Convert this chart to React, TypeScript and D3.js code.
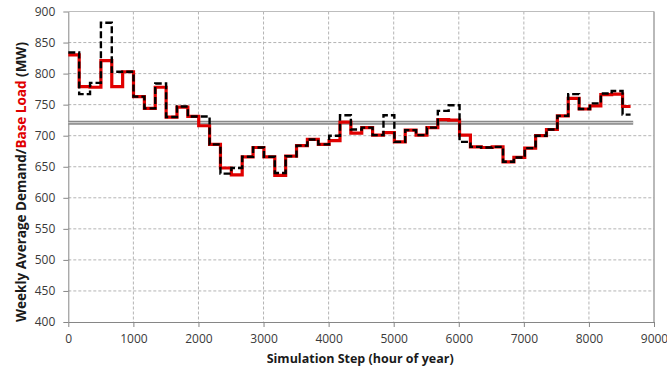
import React, { useEffect, useRef } from "react";
import * as d3 from "d3";

// weekly values (MW), one per simulation week
const baseLoad: number[] = [
  830, 779, 778, 821, 779, 803, 763, 744, 778, 730, 746, 731, 716,
  686, 648, 637, 666, 681, 666, 636, 667, 684, 694, 686, 692, 722,
  704, 713, 701, 705, 690, 709, 701, 713, 726, 725, 701, 682, 681,
  682, 658, 665, 680, 700, 710, 732, 760, 743, 748, 766, 767, 747,
];
const weeklyDemand: number[] = [
  834, 767, 785, 882, 803, 803, 763, 744, 784, 730, 747, 731, 731,
  686, 639, 648, 666, 681, 666, 640, 667, 684, 694, 686, 700, 733,
  710, 713, 701, 733, 690, 709, 701, 713, 740, 749, 690, 682, 681,
  682, 658, 665, 680, 700, 710, 732, 767, 743, 752, 768, 772, 734,
];
const averageLoad = 721;
const stepHours = 167;
const lastHour = 8640;

const xTicks = [0, 1000, 2000, 3000, 4000, 5000, 6000, 7000, 8000, 9000];
const yTicks = [400, 450, 500, 550, 600, 650, 700, 750, 800, 850, 900];

const App = () => {
  const svgRef = useRef<SVGSVGElement>(null);

  useEffect(() => {
    const width = 667;
    const height = 370;
    const left = 68.3;
    const right = 654;
    const top = 11.5;
    const bottom = 322;
    const font = "'Open Sans', 'Liberation Sans', sans-serif";

    const svg = d3.select(svgRef.current);
    svg.selectAll("*").remove();
    svg.attr("width", width).attr("height", height);

    const x = d3.scaleLinear().domain([0, 9000]).range([left, right]);
    const y = d3.scaleLinear().domain([400, 900]).range([bottom, top]);

    svg.append("rect").attr("width", width).attr("height", height).attr("fill", "#fff");

    // grid
    svg
      .selectAll(".hgrid")
      .data(yTicks.slice(1, -1))
      .enter()
      .append("line")
      .attr("x1", left)
      .attr("x2", right)
      .attr("y1", (d) => y(d))
      .attr("y2", (d) => y(d))
      .attr("stroke", "#b4b4b4")
      .attr("stroke-dasharray", "3,2");
    svg
      .selectAll(".vgrid")
      .data(xTicks.slice(1, -1))
      .enter()
      .append("line")
      .attr("x1", (d) => x(d))
      .attr("x2", (d) => x(d))
      .attr("y1", top)
      .attr("y2", bottom)
      .attr("stroke", "#b4b4b4")
      .attr("stroke-dasharray", "3,2");

    // plot frame
    svg
      .append("line")
      .attr("x1", left)
      .attr("x2", right)
      .attr("y1", top)
      .attr("y2", top)
      .attr("stroke", "#bdbdbd");
    svg
      .append("line")
      .attr("x1", right)
      .attr("x2", right)
      .attr("y1", top)
      .attr("y2", bottom)
      .attr("stroke", "#a8a8a8")
      .attr("stroke-width", 1.6);

    // axes
    const xAxis = svg
      .append("g")
      .attr("transform", `translate(0,${bottom})`)
      .call(
        d3.axisBottom(x).tickValues(xTicks).tickFormat(d3.format("d")).tickSize(5).tickPadding(7).tickSizeOuter(0)
      );
    const yAxis = svg
      .append("g")
      .attr("transform", `translate(${left},0)`)
      .call(
        d3.axisLeft(y).tickValues(yTicks).tickFormat(d3.format("d")).tickSize(5).tickPadding(8).tickSizeOuter(0)
      );
    [xAxis, yAxis].forEach((g) => {
      g.select(".domain").attr("stroke", "#868686");
      g.selectAll(".tick line").attr("stroke", "#868686");
      g.selectAll(".tick text")
        .attr("fill", "#3a3a3a")
        .style("font-family", font)
        .style("font-size", "12px");
    });

    // average line (double)
    svg
      .append("line")
      .attr("x1", x(0))
      .attr("x2", x(8680))
      .attr("y1", y(averageLoad))
      .attr("y2", y(averageLoad))
      .attr("stroke", "#8a8a8a")
      .attr("stroke-width", 4);
    svg
      .append("line")
      .attr("x1", x(0))
      .attr("x2", x(8680))
      .attr("y1", y(averageLoad))
      .attr("y2", y(averageLoad))
      .attr("stroke", "#d8d8d8")
      .attr("stroke-width", 1);

    const toSteps = (vals: number[]): [number, number][] => {
      const pts: [number, number][] = vals.map((v, i) => [i * stepHours, v]);
      pts.push([lastHour, vals[vals.length - 1]]);
      return pts;
    };
    const line = d3
      .line<[number, number]>()
      .x((d) => x(d[0]))
      .y((d) => y(d[1]))
      .curve(d3.curveStepAfter);

    svg
      .append("path")
      .attr("d", line(toSteps(baseLoad)))
      .attr("fill", "none")
      .attr("stroke", "#e00000")
      .attr("stroke-width", 3.2);
    svg
      .append("path")
      .attr("d", line(toSteps(weeklyDemand)))
      .attr("fill", "none")
      .attr("stroke", "#000")
      .attr("stroke-width", 2.4)
      .attr("stroke-dasharray", "7,3");

    // titles
    svg
      .append("text")
      .attr("x", (left + right) / 2 - 1)
      .attr("y", 363)
      .attr("text-anchor", "middle")
      .style("font-family", font)
      .style("font-size", "12.5px")
      .style("font-weight", "bold")
      .attr("fill", "#1a1a1a")
      .text("Simulation Step (hour of year)");

    const yTitle = svg
      .append("text")
      .attr("transform", `translate(26,182) rotate(-90)`)
      .attr("text-anchor", "middle")
      .style("font-family", font)
      .style("font-size", "13.5px")
      .style("font-weight", "bold")
      .attr("fill", "#1a1a1a");
    yTitle.append("tspan").text("Weekly Average Demand/");
    yTitle.append("tspan").attr("fill", "#e00000").text("Base Load");
    yTitle.append("tspan").text(" (MW)");
  }, []);

  return <svg ref={svgRef} style={{ position: "absolute", left: 0, top: 0 }}></svg>;
};

export default App;
